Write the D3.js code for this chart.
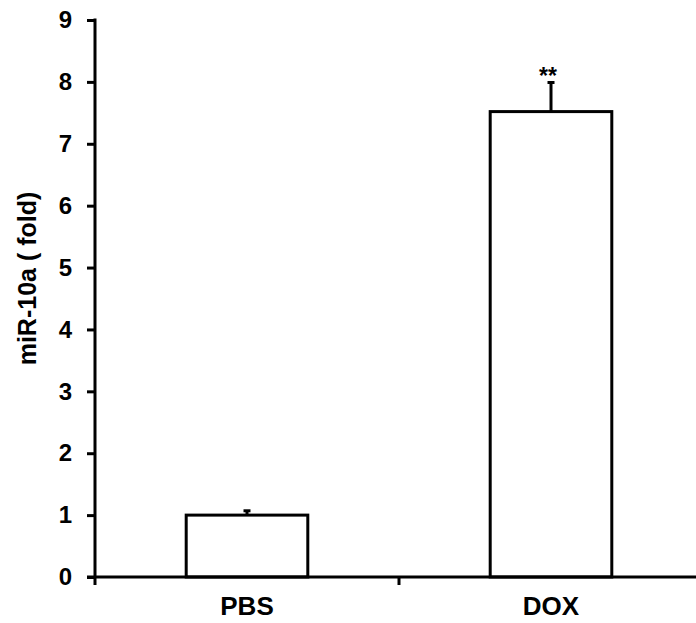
<!DOCTYPE html>
<html>
<head>
<meta charset="utf-8">
<script src="https://cdn.jsdelivr.net/npm/d3@7"></script>
<style>
    body { margin: 0; background: #fff; }
    text { font-family: "Liberation Sans", Arial, sans-serif; font-weight: bold; fill: #000; }
</style>
</head>
<body>
<div id="chart"></div>
<script>
let groups = ['PBS', 'DOX'];
let values = [1.0, 7.52];
let errors = [0.07, 0.47];
let marks = ['', '**'];
let yTicks = [0, 1, 2, 3, 4, 5, 6, 7, 8, 9];

let width = 696;
let height = 623;
let margin = { top: 20, right: -7, bottom: 46, left: 95 };

let data = groups.map((g, i) => ({
    name: g,
    value: values[i],
    err: errors[i],
    mark: marks[i]
}));

let x = d3
    .scaleBand()
    .domain(groups)
    .range([margin.left, width - margin.right])
    .paddingInner(0.6)
    .paddingOuter(0.3);

let y = d3
    .scaleLinear()
    .domain([0, 9])
    .range([height - margin.bottom, margin.top]);

const svg = d3.select('#chart')
    .append('svg')
    .attr('width', width)
    .attr('height', height);

// y axis
let yAxis = svg.append('g')
    .attr('transform', `translate(${margin.left},0)`)
    .call(d3.axisLeft(y).tickValues(yTicks).tickFormat(d3.format('d')).tickSize(8).tickPadding(15));
yAxis.select('.domain').remove();
yAxis.selectAll('line').attr('stroke', '#000').attr('stroke-width', 3);
yAxis.selectAll('text').style('font-size', '24px');

svg.append('line')
    .attr('x1', margin.left).attr('x2', margin.left)
    .attr('y1', y(9) - 1.5).attr('y2', y(0) + 8)
    .attr('stroke', '#000').attr('stroke-width', 3);

// bars
svg.append('g')
    .selectAll('rect')
    .data(data)
    .join('rect')
    .attr('x', d => x(d.name))
    .attr('y', d => y(d.value))
    .attr('width', x.bandwidth())
    .attr('height', d => y(0) - y(d.value))
    .attr('fill', '#fff')
    .attr('stroke', '#000')
    .attr('stroke-width', 3);

// error bars (upper only)
let eb = svg.append('g');
eb.selectAll('line.stem')
    .data(data)
    .join('line')
    .attr('class', 'stem')
    .attr('x1', d => x(d.name) + x.bandwidth() / 2)
    .attr('x2', d => x(d.name) + x.bandwidth() / 2)
    .attr('y1', d => y(d.value))
    .attr('y2', d => y(d.value + d.err))
    .attr('stroke', '#000').attr('stroke-width', 3);
eb.selectAll('line.cap')
    .data(data)
    .join('line')
    .attr('class', 'cap')
    .attr('x1', d => x(d.name) + x.bandwidth() / 2 - 3.5)
    .attr('x2', d => x(d.name) + x.bandwidth() / 2 + 3.5)
    .attr('y1', d => y(d.value + d.err))
    .attr('y2', d => y(d.value + d.err))
    .attr('stroke', '#000').attr('stroke-width', 3);

// significance marks
svg.append('g')
    .selectAll('text')
    .data(data.filter(d => d.mark))
    .join('text')
    .attr('x', d => x(d.name) + x.bandwidth() / 2 - 3)
    .attr('y', d => y(d.value + d.err) + 1)
    .attr('text-anchor', 'middle')
    .style('font-size', '23px')
    .text(d => d.mark);

// x axis
svg.append('line')
    .attr('x1', margin.left - 8).attr('x2', width)
    .attr('y1', y(0)).attr('y2', y(0))
    .attr('stroke', '#000').attr('stroke-width', 3);

let sep = (x(groups[0]) + x(groups[1]) + x.bandwidth()) / 2;
svg.append('line')
    .attr('x1', sep).attr('x2', sep)
    .attr('y1', y(0)).attr('y2', y(0) + 8)
    .attr('stroke', '#000').attr('stroke-width', 3);

let xAxis = svg.append('g')
    .attr('transform', `translate(0,${y(0)})`)
    .call(d3.axisBottom(x).tickSize(0).tickPadding(20));
xAxis.select('.domain').remove();
xAxis.selectAll('text').style('font-size', '26px');

// y label
svg.append('text')
    .attr('transform', `translate(36,${(y(0) + y(9)) / 2 - 20}) rotate(-90)`)
    .attr('text-anchor', 'middle')
    .style('font-size', '25px')
    .text('miR-10a ( fold)');
</script>
</body>
</html>
